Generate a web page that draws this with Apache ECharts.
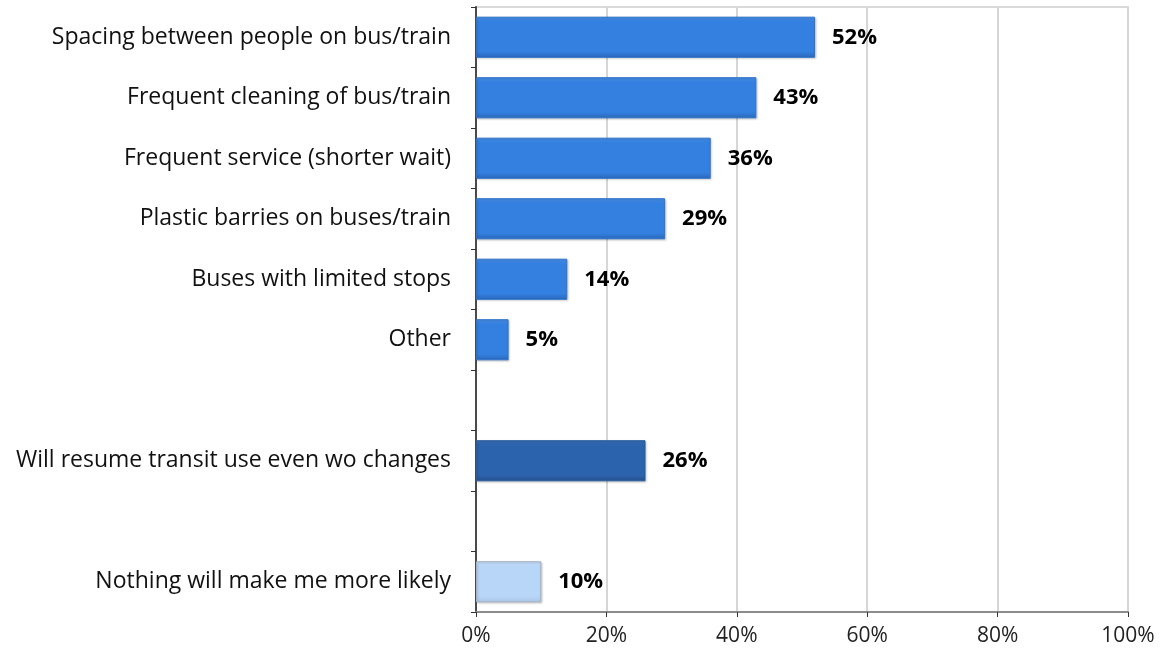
<!DOCTYPE html>
<html>
<head>
<meta charset="utf-8">
<script src="https://cdn.jsdelivr.net/npm/echarts@6/dist/echarts.min.js"></script>
<style>
  html, body { margin: 0; padding: 0; background: #fff; }
  #chart { width: 1164px; height: 657px; }
</style>
</head>
<body>
<div id="chart"></div>
<script>
// Survey responses: what would make riders more likely to return to transit.
// Empty strings are spacer rows separating the answer groups.
var categories = [
  'Spacing between people on bus/train',
  'Frequent cleaning of bus/train',
  'Frequent service (shorter wait)',
  'Plastic barries on buses/train',
  'Buses with limited stops',
  'Other',
  '',
  'Will resume transit use even wo changes',
  '',
  'Nothing will make me more likely'
];
var shares = [52, 43, 36, 29, 14, 5, null, 26, null, 10];
// Bar group per row: 'change', 'resume', 'nothing' or null for spacers
var groups = ['change', 'change', 'change', 'change', 'change', 'change', null, 'resume', null, 'nothing'];
var xTicks = [0, 20, 40, 60, 80, 100];

var FONT = '"Open Sans"';

function grad(top, mid, bottom) {
  return new echarts.graphic.LinearGradient(0, 0, 0, 1, [
    { offset: 0, color: top },
    { offset: 0.12, color: mid },
    { offset: 0.85, color: mid },
    { offset: 1, color: bottom }
  ]);
}

var styles = {
  change: { color: grad('#4a90e8', '#3380e0', '#2a66b8'), borderColor: '#2f74cc', borderWidth: 1 },
  resume: { color: grad('#3a70b8', '#2c63ad', '#244f8c'), borderColor: '#2a5c9e', borderWidth: 1 },
  nothing: { color: grad('#c6ddf9', '#b8d6f8', '#a9c6e8'), borderColor: '#a5b4c4', borderWidth: 1 }
};

var barData = shares.map(function (v, i) {
  if (v === null) return { value: null };
  return { value: v, itemStyle: styles[groups[i]] };
});

var chart = echarts.init(document.getElementById('chart'), null, { renderer: 'canvas' });
chart.setOption({
  animation: false,
  backgroundColor: '#ffffff',
  grid: {
    left: 476, right: 36, top: 7, bottom: 45,
    show: true, borderColor: '#dadada', borderWidth: 2
  },
  xAxis: {
    type: 'value',
    min: xTicks[0],
    max: xTicks[xTicks.length - 1],
    interval: 20,
    axisLine: { show: true, lineStyle: { color: '#8c8c8c', width: 2 } },
    axisTick: { show: true, length: 5, lineStyle: { color: '#333', width: 1 } },
    axisLabel: {
      formatter: '{value}%', color: '#222', fontFamily: FONT, fontSize: 21, margin: 14
    },
    splitLine: { show: true, lineStyle: { color: '#d6d6d6', width: 2 } }
  },
  yAxis: {
    type: 'category',
    inverse: true,
    data: categories,
    axisLine: { show: true, lineStyle: { color: '#4a4a4a', width: 2 } },
    axisTick: { show: true, length: 5, lineStyle: { color: '#333', width: 1 } },
    axisLabel: { color: '#111', fontFamily: FONT, fontSize: 23, margin: 25, padding: [9, 0, 0, 0] },
    splitLine: { show: false }
  },
  series: [{
    type: 'bar',
    data: barData,
    barCategoryGap: '32%',
    label: {
      show: true,
      position: 'right',
      distance: 17,
      padding: [9, 0, 0, 0],
      formatter: function (p) { return p.value == null ? '' : p.value + '%'; },
      color: '#000',
      fontFamily: FONT,
      fontWeight: 'bold',
      fontSize: 22
    },
    itemStyle: {
      shadowColor: 'rgba(0,0,0,0.18)', shadowBlur: 2, shadowOffsetX: 1, shadowOffsetY: 1
    }
  }]
});
</script>
</body>
</html>
